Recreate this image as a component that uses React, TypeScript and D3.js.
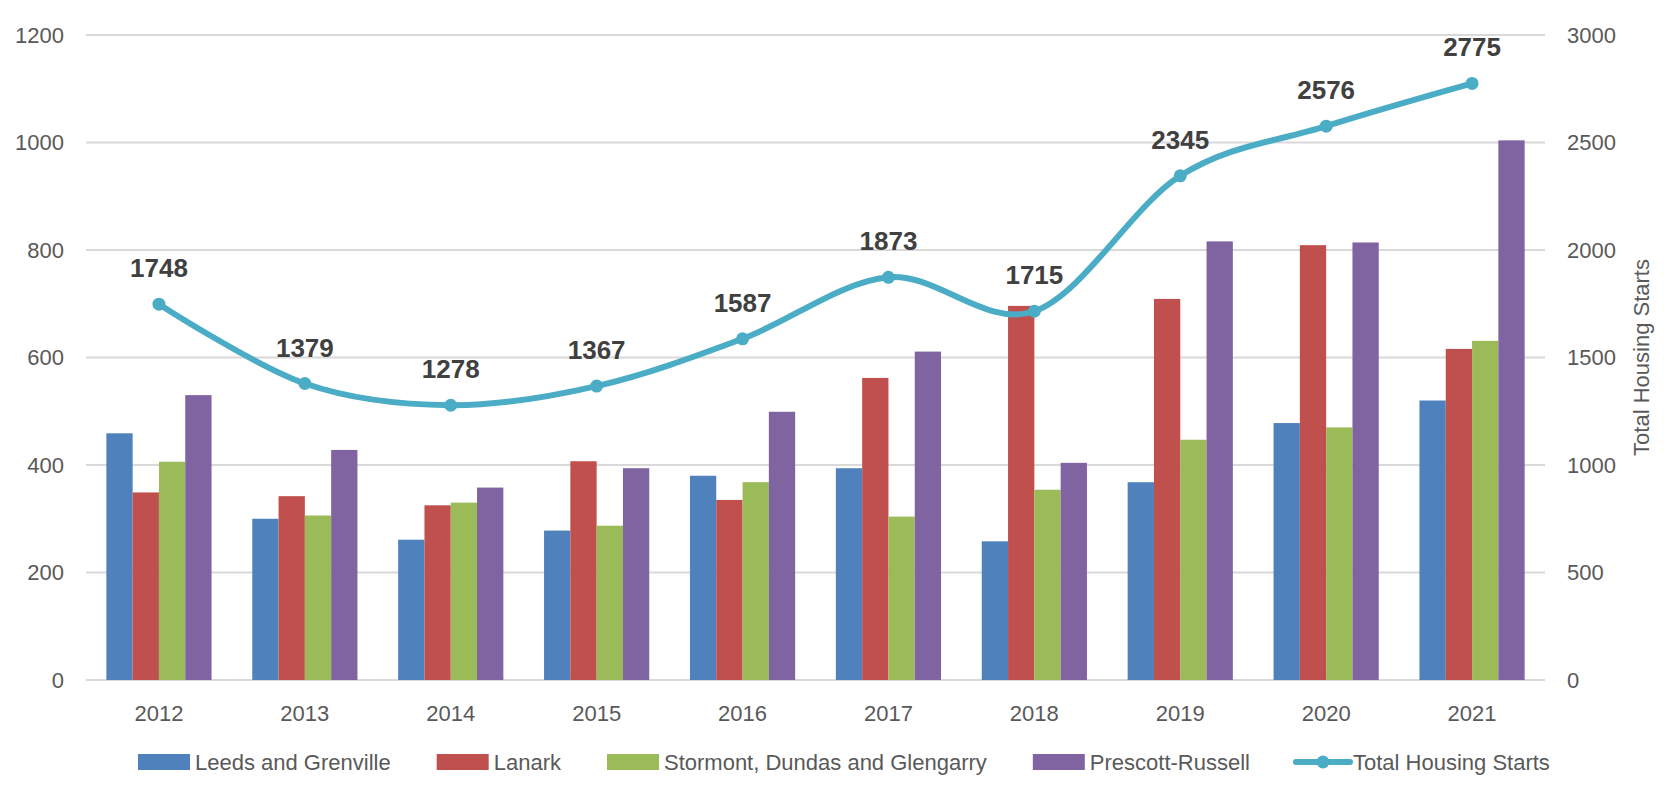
import { useEffect, useRef } from 'react';
import * as d3 from 'd3';

const years = ['2012', '2013', '2014', '2015', '2016', '2017', '2018', '2019', '2020', '2021'];
const leedsGrenville = [459, 300, 261, 278, 380, 394, 258, 368, 478, 520];
const lanark = [349, 342, 325, 407, 335, 562, 696, 709, 809, 616];
const stormontDundasGlengarry = [406, 306, 330, 287, 368, 304, 354, 447, 470, 631];
const prescottRussell = [530, 428, 358, 394, 499, 611, 404, 816, 814, 1004];
const totalStarts = [1748, 1379, 1278, 1367, 1587, 1873, 1715, 2345, 2576, 2775];

const leftTicks = [0, 200, 400, 600, 800, 1000, 1200];
const rightTicks = [0, 500, 1000, 1500, 2000, 2500, 3000];

const barSeries = [
  { name: 'Leeds and Grenville', values: leedsGrenville, color: '#4F81BD' },
  { name: 'Lanark', values: lanark, color: '#C0504D' },
  { name: 'Stormont, Dundas and Glengarry', values: stormontDundasGlengarry, color: '#9BBB59' },
  { name: 'Prescott-Russell', values: prescottRussell, color: '#8064A2' },
];
const lineName = 'Total Housing Starts';
const lineColor = '#4BACC6';

export default function App() {
  const svgRef = useRef<SVGSVGElement>(null);

  useEffect(() => {
    const width = 1664;
    const height = 800;
    const margin = { top: 35, right: 119, bottom: 120, left: 86 };
    const font = '"Liberation Sans", Arial, sans-serif';

    const svg = d3.select(svgRef.current);
    svg.selectAll('*').remove();

    const x0 = d3.scaleBand()
      .domain(years)
      .range([margin.left, width - margin.right])
      .paddingInner(0.279)
      .paddingOuter(0.1395);

    const x1 = d3.scaleBand()
      .domain(barSeries.map(s => s.name))
      .range([0, x0.bandwidth()]);

    const yLeft = d3.scaleLinear().domain([0, 1200]).range([height - margin.bottom, margin.top]);
    const yRight = d3.scaleLinear().domain([0, 3000]).range([height - margin.bottom, margin.top]);

    // gridlines
    svg.append('g')
      .selectAll('line')
      .data(leftTicks)
      .join('line')
      .attr('x1', margin.left)
      .attr('x2', width - margin.right)
      .attr('y1', d => yLeft(d))
      .attr('y2', d => yLeft(d))
      .attr('stroke', '#D9D9D9')
      .attr('stroke-width', 2);

    // left axis labels
    svg.append('g')
      .selectAll('text')
      .data(leftTicks)
      .join('text')
      .attr('x', margin.left - 22)
      .attr('y', d => yLeft(d))
      .attr('dy', '0.36em')
      .attr('text-anchor', 'end')
      .attr('font-family', font)
      .attr('font-size', 22)
      .attr('fill', '#595959')
      .text(d => d);

    // right axis labels
    svg.append('g')
      .selectAll('text')
      .data(rightTicks)
      .join('text')
      .attr('x', width - margin.right + 22)
      .attr('y', d => yRight(d))
      .attr('dy', '0.36em')
      .attr('font-family', font)
      .attr('font-size', 22)
      .attr('fill', '#595959')
      .text(d => d);

    svg.append('text')
      .attr('transform', `translate(1649,${(yRight(0) + yRight(3000)) / 2}) rotate(-90)`)
      .attr('text-anchor', 'middle')
      .attr('font-family', font)
      .attr('font-size', 22)
      .attr('fill', '#595959')
      .text(lineName);

    // year labels
    svg.append('g')
      .selectAll('text')
      .data(years)
      .join('text')
      .attr('x', d => x0(d)! + x0.bandwidth() / 2)
      .attr('y', 721)
      .attr('text-anchor', 'middle')
      .attr('font-family', font)
      .attr('font-size', 22)
      .attr('fill', '#595959')
      .text(d => d);

    // bars
    barSeries.forEach(s => {
      svg.append('g')
        .selectAll('rect')
        .data(s.values)
        .join('rect')
        .attr('x', (d, i) => x0(years[i])! + x1(s.name)!)
        .attr('y', d => yLeft(d))
        .attr('width', x1.bandwidth())
        .attr('height', d => yLeft(0) - yLeft(d))
        .attr('fill', s.color);
    });

    // total line, smoothed like Excel
    const cx = (i: number) => x0(years[i])! + x0.bandwidth() / 2;
    const line = d3.line<number>()
      .x((d, i) => cx(i))
      .y(d => yRight(d))
      .curve(d3.curveCardinal.tension(0));

    svg.append('path')
      .datum(totalStarts)
      .attr('fill', 'none')
      .attr('stroke', lineColor)
      .attr('stroke-width', 6)
      .attr('stroke-linecap', 'round')
      .attr('d', line);

    svg.append('g')
      .selectAll('circle')
      .data(totalStarts)
      .join('circle')
      .attr('cx', (d, i) => cx(i))
      .attr('cy', d => yRight(d))
      .attr('r', 6.5)
      .attr('fill', lineColor);

    svg.append('g')
      .selectAll('text')
      .data(totalStarts)
      .join('text')
      .attr('x', (d, i) => cx(i))
      .attr('y', d => yRight(d) - 27)
      .attr('text-anchor', 'middle')
      .attr('font-family', font)
      .attr('font-size', 26)
      .attr('font-weight', 'bold')
      .attr('fill', '#404040')
      .text(d => d);

    // legend
    const legendY = 762;
    let lx = 138;
    const legendItems = [
      ...barSeries.map(s => ({ name: s.name, color: s.color, isLine: false })),
      { name: lineName, color: lineColor, isLine: true },
    ];
    legendItems.forEach(item => {
      const g = svg.append('g');
      if (item.isLine) {
        g.append('line')
          .attr('x1', lx).attr('x2', lx + 54)
          .attr('y1', legendY).attr('y2', legendY)
          .attr('stroke', item.color)
          .attr('stroke-width', 6)
          .attr('stroke-linecap', 'round');
        g.append('circle')
          .attr('cx', lx + 27).attr('cy', legendY).attr('r', 6.5)
          .attr('fill', item.color);
      } else {
        g.append('rect')
          .attr('x', lx).attr('y', legendY - 8)
          .attr('width', 52).attr('height', 16)
          .attr('fill', item.color);
      }
      const t = g.append('text')
        .attr('x', lx + 57)
        .attr('y', legendY)
        .attr('dy', '0.36em')
        .attr('font-family', font)
        .attr('font-size', 22)
        .attr('fill', '#595959')
        .text(item.name);
      const w = (t.node() as SVGTextElement).getComputedTextLength();
      lx = lx + 57 + w + 46;
    });
  }, []);

  return (
    <svg
      ref={svgRef}
      width={1664}
      height={800}
      style={{ position: 'absolute', left: 0, top: 0, background: '#fff' }}
    />
  );
}
